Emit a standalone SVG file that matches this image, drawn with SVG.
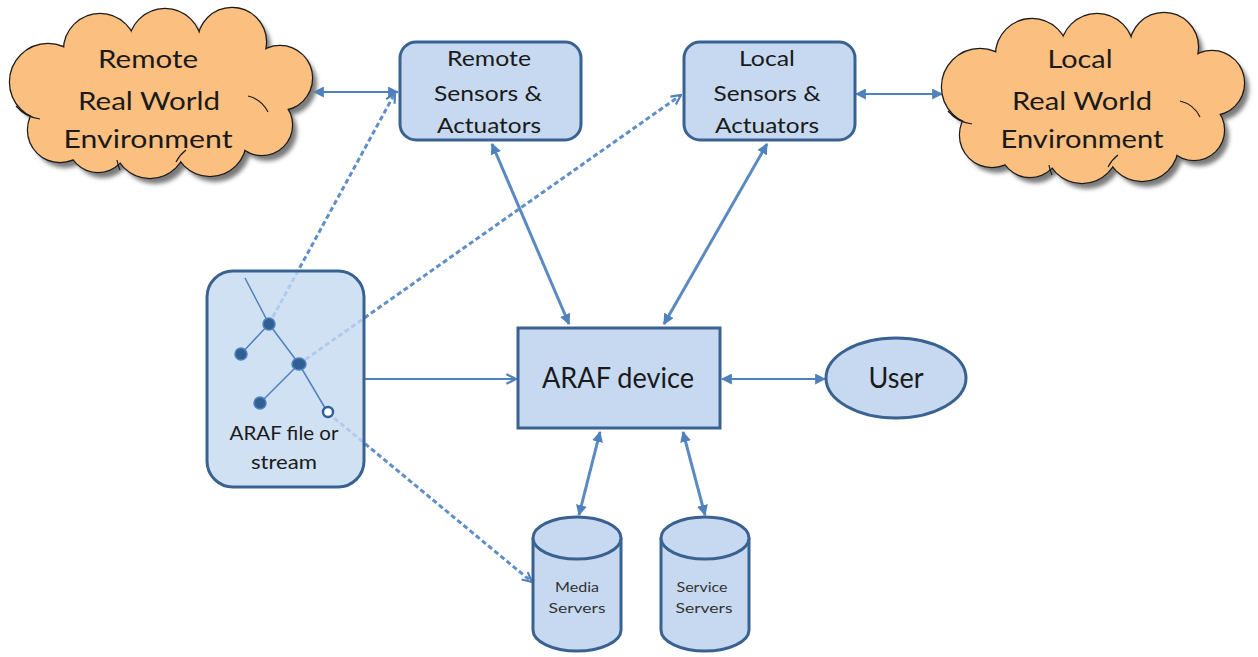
<svg xmlns="http://www.w3.org/2000/svg" width="1258" height="657" viewBox="0 0 1258 657">
  <style>
    .box { fill: #c6d9f1; stroke: #3a6291; stroke-width: 3; }
    .lbl { font-family: Lato, "Liberation Sans", sans-serif; fill: #1a1a1a; text-anchor: middle; }
    .small { fill: #333333; }
    .link { fill: none; stroke: #4f81bd; stroke-width: 2; }
    .thick { fill: none; stroke: #5a89c3; stroke-width: 3; }
    .dash { fill: none; stroke: #5f8ec8; stroke-width: 3; stroke-dasharray: 5 3; }
    .tree { fill: none; stroke: #4f81bd; stroke-width: 1.5; }
    .dot { fill: #2f5f93; stroke: #4f81bd; stroke-width: 1.5; }
    .cloud-inner { fill: none; stroke: #1a1a1a; stroke-width: 1.2; }
  </style>
  <defs>
    <filter id="blur" x="-10%" y="-10%" width="120%" height="120%">
      <feGaussianBlur stdDeviation="2"/>
    </filter>
    <marker id="tri" viewBox="0 0 10 10" refX="9" refY="5" markerWidth="11" markerHeight="11" markerUnits="userSpaceOnUse" orient="auto-start-reverse">
      <path d="M0,0 L10,5 L0,10 Z" fill="#4f81bd"/>
    </marker>
    <marker id="chev" viewBox="0 0 10 10" refX="9" refY="5" markerWidth="12" markerHeight="12" markerUnits="userSpaceOnUse" orient="auto">
      <path d="M1,1 L9,5 L1,9" fill="none" stroke="#4f81bd" stroke-width="1.8"/>
    </marker>
    <!-- cloud body built from overlapping lobes -->
    <g id="lobes">
      <ellipse cx="160" cy="95" rx="120" ry="60"/>
      <circle cx="48" cy="82" r="38"/>
      <circle cx="60" cy="130" r="32"/>
      <circle cx="100" cy="50" r="36"/>
      <circle cx="165" cy="45" r="36"/>
      <circle cx="232" cy="42" r="34"/>
      <circle cx="280" cy="78" r="32"/>
      <circle cx="262" cy="125" r="30"/>
      <circle cx="210" cy="140" r="36"/>
      <circle cx="150" cy="142" r="36"/>
      <circle cx="98" cy="142" r="30"/>
    </g>
    <path id="cloudLines" d="M 16,106 A 38,38 0 0 0 40,119 M 248,96 A 30,30 0 0 1 268,112 M 176,162 A 36,36 0 0 1 186,150 M 120,170 A 36,36 0 0 1 117,160"/>
  </defs>

  <!-- connectors -->
  <g id="connectors">
    <line class="link" x1="314" y1="92" x2="398" y2="92" marker-start="url(#tri)" marker-end="url(#tri)"/>
    <line class="link" x1="856" y1="94" x2="942" y2="94" marker-start="url(#tri)" marker-end="url(#tri)"/>
    <line class="thick" x1="492" y1="144" x2="569" y2="324" marker-start="url(#tri)" marker-end="url(#tri)"/>
    <line class="thick" x1="767" y1="144" x2="664" y2="324" marker-start="url(#tri)" marker-end="url(#tri)"/>
    <line class="thick" x1="600" y1="432" x2="579" y2="515" marker-start="url(#tri)" marker-end="url(#tri)"/>
    <line class="thick" x1="683" y1="432" x2="705" y2="515" marker-start="url(#tri)" marker-end="url(#tri)"/>
    <line class="link" x1="365" y1="379" x2="516" y2="379" marker-end="url(#chev)"/>
    <line class="link" x1="722" y1="379" x2="825" y2="379" marker-start="url(#tri)" marker-end="url(#tri)"/>
    <line class="dash" x1="269" y1="324" x2="395" y2="93" marker-end="url(#chev)"/>
    <line class="dash" x1="299" y1="364" x2="681" y2="95" marker-end="url(#chev)"/>
    <line class="dash" x1="328" y1="413" x2="532" y2="582" marker-end="url(#chev)"/>
  </g>

  <!-- remote environment cloud -->
  <g id="remote-env">
    <use href="#lobes" fill="#7a7a7a" filter="url(#blur)" transform="translate(5,6)"/>
    <use href="#lobes" fill="#fbbf80" stroke="#1a1a1a" stroke-width="2.4"/>
    <use href="#lobes" fill="#fbbf80"/>
    <use href="#cloudLines" class="cloud-inner"/>
    <text class="lbl" font-size="25" x="148" y="68" textLength="100" lengthAdjust="spacingAndGlyphs">Remote</text>
    <text class="lbl" font-size="25" x="149" y="110" textLength="142" lengthAdjust="spacingAndGlyphs">Real World</text>
    <text class="lbl" font-size="25" x="148" y="148" textLength="169" lengthAdjust="spacingAndGlyphs">Environment</text>
  </g>

  <!-- local environment cloud -->
  <g id="local-env" transform="translate(932,5)">
    <use href="#lobes" fill="#7a7a7a" filter="url(#blur)" transform="translate(5,6)"/>
    <use href="#lobes" fill="#fbbf80" stroke="#1a1a1a" stroke-width="2.4"/>
    <use href="#lobes" fill="#fbbf80"/>
    <use href="#cloudLines" class="cloud-inner"/>
    <text class="lbl" font-size="25" x="148" y="63" textLength="65" lengthAdjust="spacingAndGlyphs">Local</text>
    <text class="lbl" font-size="25" x="150" y="105" textLength="140" lengthAdjust="spacingAndGlyphs">Real World</text>
    <text class="lbl" font-size="25" x="150" y="143" textLength="163" lengthAdjust="spacingAndGlyphs">Environment</text>
  </g>

  <g id="remote-sensors">
    <rect class="box" x="400" y="42" width="181" height="98" rx="16"/>
    <text class="lbl" font-size="21" x="489" y="66" textLength="84" lengthAdjust="spacingAndGlyphs">Remote</text>
    <text class="lbl" font-size="21" x="488" y="101" textLength="108" lengthAdjust="spacingAndGlyphs">Sensors &amp;</text>
    <text class="lbl" font-size="21" x="489" y="133" textLength="104" lengthAdjust="spacingAndGlyphs">Actuators</text>
  </g>

  <g id="local-sensors">
    <rect class="box" x="684" y="42" width="171" height="98" rx="16"/>
    <text class="lbl" font-size="21" x="767" y="66" textLength="56" lengthAdjust="spacingAndGlyphs">Local</text>
    <text class="lbl" font-size="21" x="767" y="101" textLength="107" lengthAdjust="spacingAndGlyphs">Sensors &amp;</text>
    <text class="lbl" font-size="21" x="767" y="133" textLength="104" lengthAdjust="spacingAndGlyphs">Actuators</text>
  </g>

  <g id="araf-file">
    <rect class="box" x="207" y="271" width="157" height="216" rx="26" fill-opacity="0.8"/>
    <path class="tree" d="M245,278 L269,324 L299,364 L328,413 M269,324 L241,354 M299,364 L260,403"/>
    <circle class="dot" cx="269" cy="324" r="6"/>
    <circle class="dot" cx="241" cy="354" r="6"/>
    <ellipse class="dot" cx="299" cy="364" rx="7" ry="6"/>
    <circle class="dot" cx="260" cy="403" r="6"/>
    <circle cx="328" cy="412" r="5" fill="#ffffff" stroke="#2f5f93" stroke-width="2.5"/>
    <text class="lbl" font-size="20" x="284" y="440" textLength="109" lengthAdjust="spacingAndGlyphs">ARAF file or</text>
    <text class="lbl" font-size="20" x="284" y="469" textLength="66" lengthAdjust="spacingAndGlyphs">stream</text>
  </g>

  <g id="araf-device">
    <rect class="box" x="518" y="328" width="202" height="100"/>
    <text class="lbl" font-size="28" x="618" y="388" textLength="152" lengthAdjust="spacingAndGlyphs">ARAF device</text>
  </g>

  <g id="user">
    <ellipse class="box" cx="896" cy="378" rx="70" ry="40"/>
    <text class="lbl" font-size="28" x="896" y="388" textLength="55" lengthAdjust="spacingAndGlyphs">User</text>
  </g>

  <g id="media-servers">
    <path class="box" d="M533,538 L533,630 A44,21 0 0 0 621,630 L621,538"/>
    <ellipse class="box" cx="577" cy="538" rx="44" ry="21"/>
    <text class="lbl small" font-size="14" x="577" y="592" textLength="44" lengthAdjust="spacingAndGlyphs">Media</text>
    <text class="lbl small" font-size="14" x="577" y="613" textLength="57" lengthAdjust="spacingAndGlyphs">Servers</text>
  </g>

  <g id="service-servers">
    <path class="box" d="M661,538 L661,630 A44,21 0 0 0 749,630 L749,538"/>
    <ellipse class="box" cx="705" cy="538" rx="44" ry="21"/>
    <text class="lbl small" font-size="14" x="702" y="592" textLength="51" lengthAdjust="spacingAndGlyphs">Service</text>
    <text class="lbl small" font-size="14" x="704" y="613" textLength="57" lengthAdjust="spacingAndGlyphs">Servers</text>
  </g>
</svg>
